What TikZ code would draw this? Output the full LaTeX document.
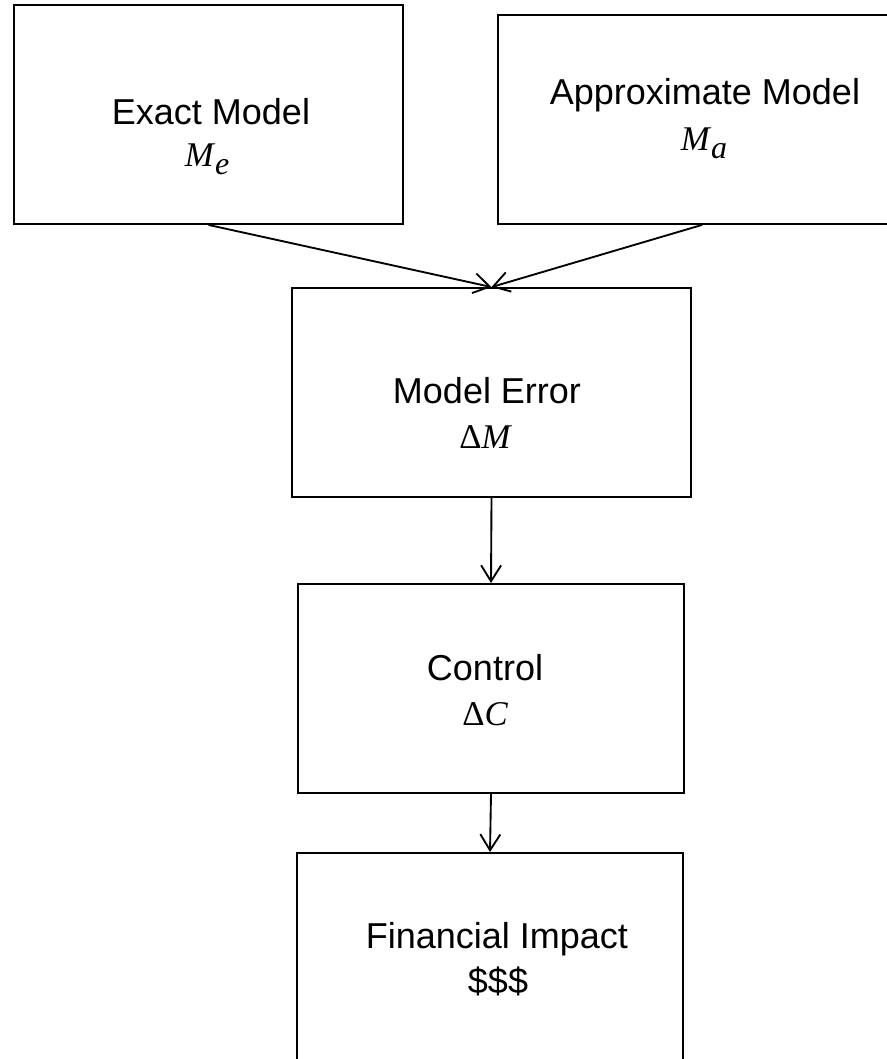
\documentclass[tikz,border=0pt]{standalone}
\usepackage{fontspec}
\setmainfont{Liberation Sans}
\newfontfamily\symfont{Liberation Serif}
\usetikzlibrary{arrows.meta,fit}
% italic symbol with a lowered subscript
\newcommand{\symvar}[2]{{\symfont\itshape #1\kern0.04em\raisebox{-0.22em}{\fontsize{24}{24}\selectfont #2}}}
\newcommand{\symdelta}[1]{{\symfont\char"0394\itshape #1}}
\begin{document}
\begin{tikzpicture}[x=0.75pt,y=-0.75pt,
  box/.style={draw, line width=1.4pt, inner sep=0pt},
  title/.style={anchor=base, inner sep=0pt, font=\fontsize{27}{30}\selectfont},
  symb/.style={anchor=base, inner sep=0pt, font=\fontsize{26}{28}\selectfont},
  conn/.style={draw, line width=1.4pt, -{Straight Barb[length=12pt,width=15pt]}}]
\path[use as bounding box, clip] (0,0) rectangle (887,1059);

% boxes
\node[box, fit={(14,5) (403,224)}] (exact) {};
\node[box, fit={(498,15) (906,224)}] (approx) {};
\node[box, fit={(292,288) (691,497)}] (err) {};
\node[box, fit={(298,584) (684,793)}] (ctl) {};
\node[box, fit={(297,853) (683,1075)}] (fin) {};

% labels
\node[title] (exactT) at (211,125) {Exact Model};
\node[symb] (exactS) at (207,167) {\symvar{M}{e}};
\node[title] (approxT) at (705,105) {Approximate Model};
\node[symb] (approxS) at (704,151) {\symvar{M}{a}};
\node[title] (errT) at (487,403) {Model Error};
\node[symb] (errS) at (485,448) {\symdelta{M}};
\node[title] (ctlT) at (485,680) {Control};
\node[symb] (ctlS) at (485,725) {\symdelta{C}};
\node[title] (finT) at (497,948) {Financial Impact};
\node[title] (finS) at (498,993) {\$\$\$};

% connectors
\draw[conn] (exact.south) -- (err.north);
\draw[conn] (approx.south) -- (err.north);
\draw[conn] (err.south) -- (ctl.north);
\draw[conn] (ctl.south) -- (fin.north);
\end{tikzpicture}
\end{document}
